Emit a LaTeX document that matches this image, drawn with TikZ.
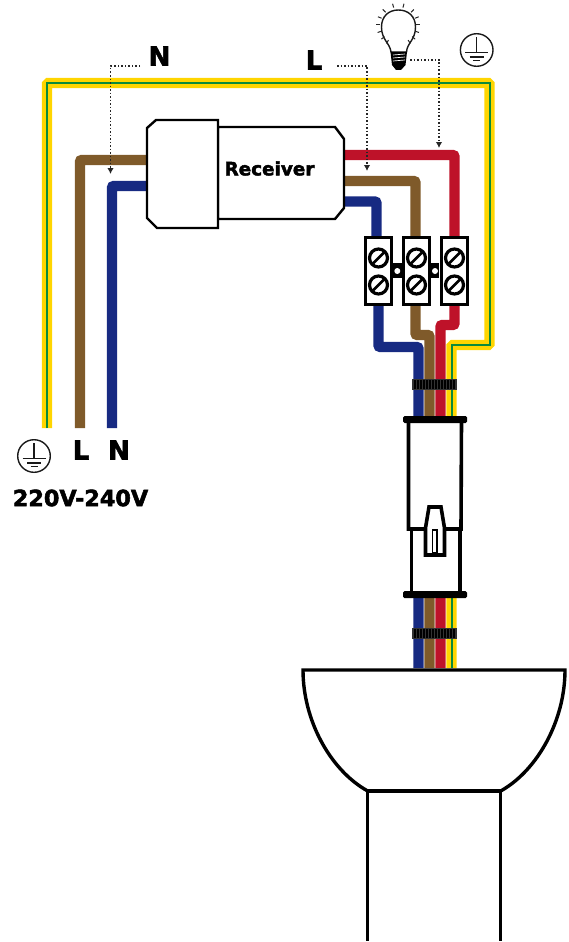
\documentclass[tikz,border=0pt]{standalone}
\usepackage{fontspec}
\setmainfont{DejaVu Sans}
\newfontfamily\heavyfont[FakeBold=2.4]{DejaVu Sans Bold}
\usetikzlibrary{arrows.meta}
\definecolor{earthyellow}{HTML}{FFD500}
\definecolor{earthgreen}{HTML}{0A8A3C}
\definecolor{livebrown}{HTML}{7F5A2A}
\definecolor{neutralblue}{HTML}{172A82}
\definecolor{lampred}{HTML}{BE1229}
\newcommand{\tieband}[1]{%
    \fill[black!80] (412,#1) rectangle (457,#1+10.5);
    \foreach \tx in {415,418,...,454}
        \draw[black, line width=1.1] (\tx,#1+1) -- (\tx,#1+9.5);
}
\tikzset{
    wire/.style={line width=10.4, rounded corners=2},
    outline/.style={draw=black, line width=3.6, line join=miter, fill=white},
    flange/.style={fill=black, rounded corners=1.5},
    leader/.style={dotted, line width=1.5, black!85, -{Latex[length=6,width=6.5]}},
    mark text/.style={font=\heavyfont\fontsize{26}{26}\selectfont, inner sep=0, text=black},
    screw head/.style={draw=black, line width=3.2, fill=white, circle, minimum size=18, inner sep=0},
    earth sign/.pic={
        \draw[line width=1.4, black!90] (0,0) circle (16.3);
        \draw[line width=1.4, black!90] (0,-13) -- (0,2.5);
        \draw[line width=1.4, black!90] (-11.5,2.5) -- (11.5,2.5);
        \draw[line width=1.4, black!90] (-7,7) -- (7,7);
        \draw[line width=1.9, black!90] (-3.5,10.5) -- (3.5,10.5);
    }
}
\begin{document}
\begin{tikzpicture}[x=1pt,y=-1pt]
    \useasboundingbox (0,0) rectangle (569,942);
    % wires
    \draw[wire, earthyellow, rounded corners=1.5] (47,428) -- (47,83) -- (489.5,83) -- (489.5,345) -- (451.5,345) -- (451.5,668);
    \draw[earthgreen, line width=2] (47,428) -- (47,83) -- (489.5,83) -- (489.5,345) -- (451.5,345) -- (451.5,668);
    \draw[wire, livebrown] (148,160) -- (80,160) -- (80,428);
    \draw[wire, neutralblue] (148,186) -- (112,186) -- (112,428);
    \draw[wire, lampred] (344,155) -- (454.5,155) -- (454.5,325) -- (440.5,325) -- (440.5,668);
    \draw[wire, livebrown] (344,181) -- (415.5,181) -- (415.5,335) -- (429.5,335) -- (429.5,668);
    \draw[wire, neutralblue] (344,201.5) -- (376.5,201.5) -- (376.5,240);
    \draw[wire, neutralblue] (378.5,300) -- (378.5,347) -- (418.5,347) -- (418.5,668);
    % receiver
    \draw[outline, line width=2.4] (218,127) -- (335,127) -- (344,139) -- (344,208) -- (335,219) -- (218,219) -- cycle;
    \draw[outline, line width=2.4] (147,128) -- (156,120) -- (218,120) -- (218,228) -- (157,228) -- (147,218) -- cycle;
    \node[mark text, font=\heavyfont\fontsize{18.4}{18.4}\selectfont] (receiver) at (269.5,168.5) {Receiver};
    % terminal block
    \fill[black] (393,263) rectangle (402,278);
    \fill[black] (431,263) rectangle (439,278);
    \fill[white] (397.3,271) circle (3);
    \fill[white] (435,271) circle (3);
    \foreach \cx/\name in {378.5/blue, 416.5/brown, 454.5/red} {
        \node[draw=black, line width=3.4, fill=white, minimum width=26.5, minimum height=67, inner sep=0, outer sep=0] (term \name) at (\cx,271) {};
        \foreach \cy in {258,285} {
            \node[screw head] at (\cx,\cy) {};
            \draw[line width=2.8] (\cx-5.5,\cy+5.5) -- (\cx+5.5,\cy-5.5);
        }
    }
    % cable ties
    \tieband{379}
    \tieband{628}
    % plug
    \draw[outline] (411.5,529) -- (460,529) -- (460,594) -- (411.5,594) -- cycle;
    \draw[outline] (408.5,420) -- (461.5,420) -- (461,529) -- (408.5,529) -- cycle;
    \fill[flange] (403,416) rectangle (467,423);
    \fill[flange] (403,591) rectangle (467,598);
    \draw[outline] (429,507) -- (441,507) -- (444.5,528) -- (444.5,555) -- (425.5,555) -- (425.5,528) -- cycle;
    \draw[black, line width=1.8, fill=white] (432.5,530) rectangle (437,553);
    % sensor head
    \draw[black, line width=3.4, fill=white] (303,670) -- (565,670) .. controls (565,720) and (538,770) .. (500.7,791) -- (367.7,791) .. controls (330,770) and (303,720) .. (303,670) -- cycle;
    \draw[black, line width=4.4] (367.7,791) -- (500.7,791);
    \draw[black, line width=3.4] (367.7,791) -- (367.7,941);
    \draw[black, line width=3.4] (500.7,791) -- (500.7,941);
    % lamp
    \draw[black!90, line width=1.4, fill=white] (391,52) .. controls (390,43) and (381.5,40) .. (381.5,27) .. controls (381.5,16) and (389,10) .. (398.3,10) .. controls (408,10) and (415.5,16) .. (415.5,27) .. controls (415.5,40) and (407,43) .. (406.5,52) -- cycle;
    \fill[black] (390.5,52) -- (407,52) -- (405.5,65) -- (401,70) -- (396,70) -- (392,65) -- cycle;
    \foreach \sy in {55,58,61} {
        \draw[white, line width=0.7] (393,\sy) -- (405,\sy-1);
    }
    \foreach \ang in {75,45,22,0,-20,-40,-57,105,135,158,180,200,220,237} {
        \draw[black!85, line width=1] (398.3,25) ++(\ang:-18) -- ++(\ang:-4);
    }
    \coordinate (lamp foot) at (410,60);
    % labels
    \node[mark text] (label n top) at (159.5,56) {N};
    \node[mark text] (label l top) at (314,60) {L};
    \node[mark text] (label l left) at (81,450) {L};
    \node[mark text] (label n left) at (119,450) {N};
    \node[mark text, font=\heavyfont\fontsize{22.3}{22.3}\selectfont] (voltage) at (80.5,498) {220V-240V};
    \pic at (476.7,50) {earth sign};
    \pic at (34,456) {earth sign};
    % leaders
    \coordinate (n start) at (140,66);
    \coordinate (n end) at (110.5,174);
    \coordinate (l start) at (337,66);
    \coordinate (l end) at (367,171);
    \coordinate (lamp end) at (439,148);
    \draw[leader] (n start) -| (n end);
    \draw[leader] (l start) -| (l end);
    \draw[leader] (lamp foot) -| (lamp end);
\end{tikzpicture}
\end{document}
